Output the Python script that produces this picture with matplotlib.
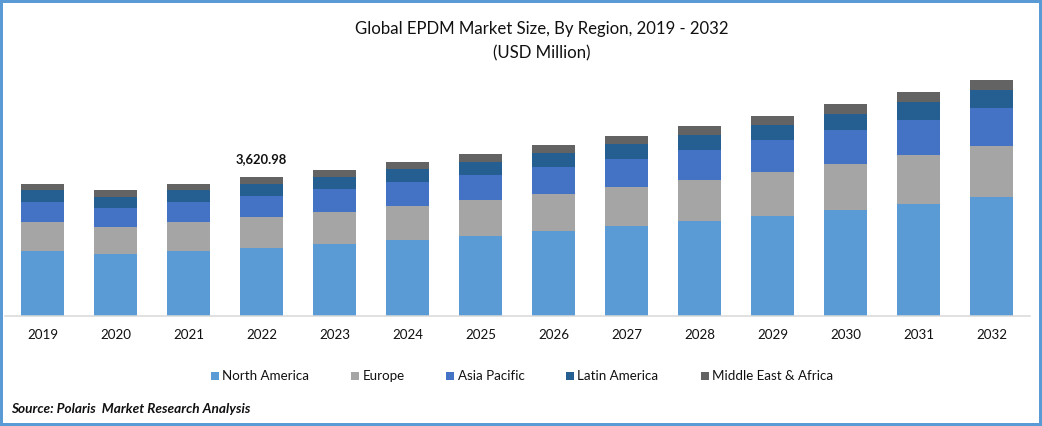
import matplotlib
matplotlib.use("Agg")
import matplotlib.pyplot as plt
import numpy as np

plt.rcParams['font.family'] = ['Lato', 'DejaVu Sans']

years = ['2019', '2020', '2021', '2022', '2023', '2024', '2025', '2026',
         '2027', '2028', '2029', '2030', '2031', '2032']

# values (USD Million)
north_america = [1693, 1615, 1693, 1771, 1876, 1980, 2084, 2214, 2345, 2475, 2605, 2761, 2918, 3100]
europe = [755, 703, 755, 808, 834, 886, 938, 964, 1016, 1068, 1146, 1198, 1276, 1329]
asia_pacific = [521, 495, 521, 547, 599, 625, 651, 703, 729, 782, 834, 886, 912, 990]
latin_america = [313, 287, 313, 313, 313, 339, 339, 365, 391, 391, 391, 417, 469, 469]
middle_east = [156, 182, 156, 182, 182, 182, 208, 208, 208, 234, 234, 261, 261, 261]

region_names = ['North America', 'Europe', 'Asia Pacific', 'Latin America', 'Middle East & Africa']
region_colors = ['#5B9BD5', '#A5A5A5', '#4472C4', '#255E91', '#636363']
callout_label = '3,620.98'
callout_index = 3

W, H = 1042, 426
fig = plt.figure(figsize=(W / 100, H / 100), dpi=100, facecolor='white')
fig.patch.set_edgecolor('#5B9BD5')
fig.patch.set_linewidth(4.0)

# axes box in pixels: baseline at y=316
ax = fig.add_axes([5 / W, (H - 316) / H, (1030 - 5) / W, 276 / H])

x = np.arange(len(years))
bottom = np.zeros(len(years))
series = [north_america, europe, asia_pacific, latin_america, middle_east]
for values, name, color in zip(series, region_names, region_colors):
    ax.bar(x, values, width=0.589, bottom=bottom, color=color, label=name, linewidth=0)
    bottom += np.array(values)

ax.set_xlim(-0.514, 13.527)
ax.set_ylim(0, 7190)
ax.set_xticks(x)
ax.set_xticklabels(years, fontsize=9.6, color='#111111')
ax.set_yticks([])
ax.tick_params(axis='x', length=0, pad=9.5)
for side in ['top', 'right', 'left']:
    ax.spines[side].set_visible(False)
ax.spines['bottom'].set_color('#D9D9D9')
ax.spines['bottom'].set_linewidth(1.1)

ax.annotate(callout_label, (x[callout_index], bottom[callout_index]), xytext=(0, 8.5),
            textcoords='offset points', ha='center', va='bottom',
            fontsize=9.4, fontweight='bold', color='#111111')

fig.text(541.5 / W, 1 - 29 / H, 'Global EPDM Market Size, By Region, 2019 - 2032',
         ha='center', va='center', fontsize=12.05, color='#111111')
fig.text(541.5 / W, 1 - 53 / H, '(USD Million)',
         ha='center', va='center', fontsize=12.05, color='#111111')

fig.legend(loc='center', bbox_to_anchor=(522 / W, 1 - 376.5 / H), ncol=5, frameon=False,
           fontsize=9.6, labelcolor='#111111', handlelength=0.6, handleheight=0.6,
           handletextpad=0.23, columnspacing=3.15, borderpad=0, borderaxespad=0)

fig.text(11 / W, 1 - 409 / H, 'Source: Polaris  Market Research Analysis',
         ha='left', va='center', fontsize=9.8, fontweight='bold', fontstyle='italic', color='#111111')

fig.savefig('out.png', dpi=100, facecolor='white', edgecolor=fig.get_edgecolor())
